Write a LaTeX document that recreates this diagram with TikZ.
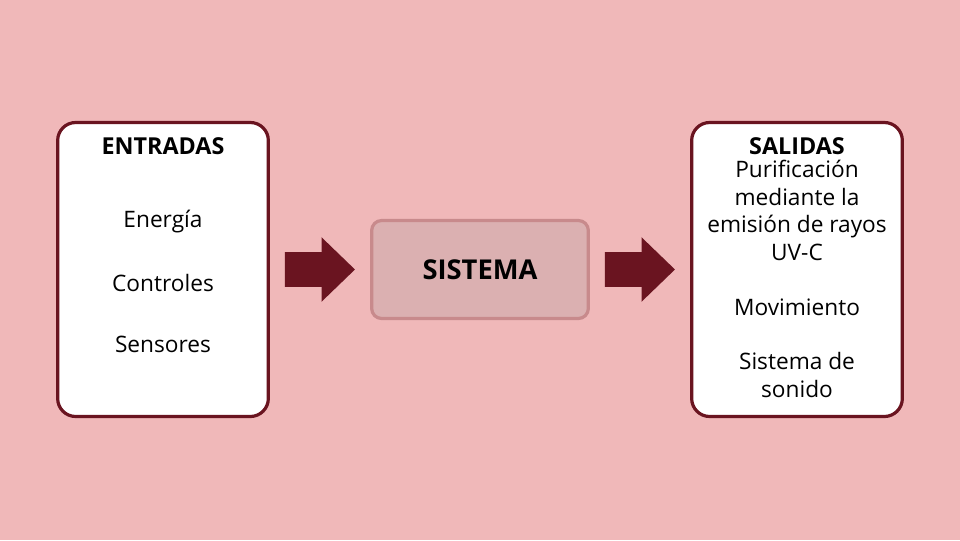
\documentclass[tikz,border=0pt]{standalone}
\usepackage{fontspec}
\setmainfont{Open Sans}
\usetikzlibrary{positioning,shapes.arrows}

\definecolor{bgpink}{HTML}{F0B8B9}
\definecolor{darkred}{HTML}{6A1420}
\definecolor{sysfill}{HTML}{DBB0B1}
\definecolor{sysline}{HTML}{C88A8C}

\begin{document}
\begin{tikzpicture}[x=0.75pt,y=-0.75pt]
    \tikzset{
      panel/.style={draw=darkred, line width=2.4pt, fill=white,
        rounded corners=13.5pt, minimum width=158pt, minimum height=220.5pt},
      sysbox/.style={draw=sysline, line width=2.4pt, fill=sysfill,
        rounded corners=7.5pt, minimum width=162.5pt, minimum height=73.5pt,
        font=\fontsize{20.5}{24}\selectfont\bfseries},
      blockarrow/.style={single arrow, fill=darkred, outer sep=0pt,
        inner xsep=0pt, inner ysep=12.75pt, minimum height=52.5pt,
        single arrow head extend=11.25pt, single arrow tip angle=88},
      heading/.style={font=\fontsize{17.5}{21}\selectfont\bfseries},
      item/.style={font=\fontsize{17}{20.6}\selectfont, align=center}
    }
    \fill[bgpink] (0,0) rectangle (960,540);
    % three boxes
    \node[panel] (entradas) at (163,269.5) {};
    \node[sysbox] (sistema) at (480,269.5) {SISTEMA};
    \node[panel] (salidas) at (797,269.5) {};
    % block arrows
    \node[blockarrow, right=11.25pt of entradas] (arrowin) {};
    \node[blockarrow, right=11.25pt of sistema] (arrowout) {};
    % texts
    \node[heading] (inhead) at (163,146) {ENTRADAS};
    \node[item] (energia) at (163,222) {Energía};
    \node[item] (controles) at (163,283) {Controles};
    \node[item] (sensores) at (163,344) {Sensores};
    \node[heading] (outhead) at (797,146) {SALIDAS};
    \node[item] (outlist) at (797,279) {Purificación\\mediante la\\emisión de rayos\\UV-C\\[20.6pt]Movimiento\\[20.6pt]Sistema de\\sonido};
\end{tikzpicture}
\end{document}
